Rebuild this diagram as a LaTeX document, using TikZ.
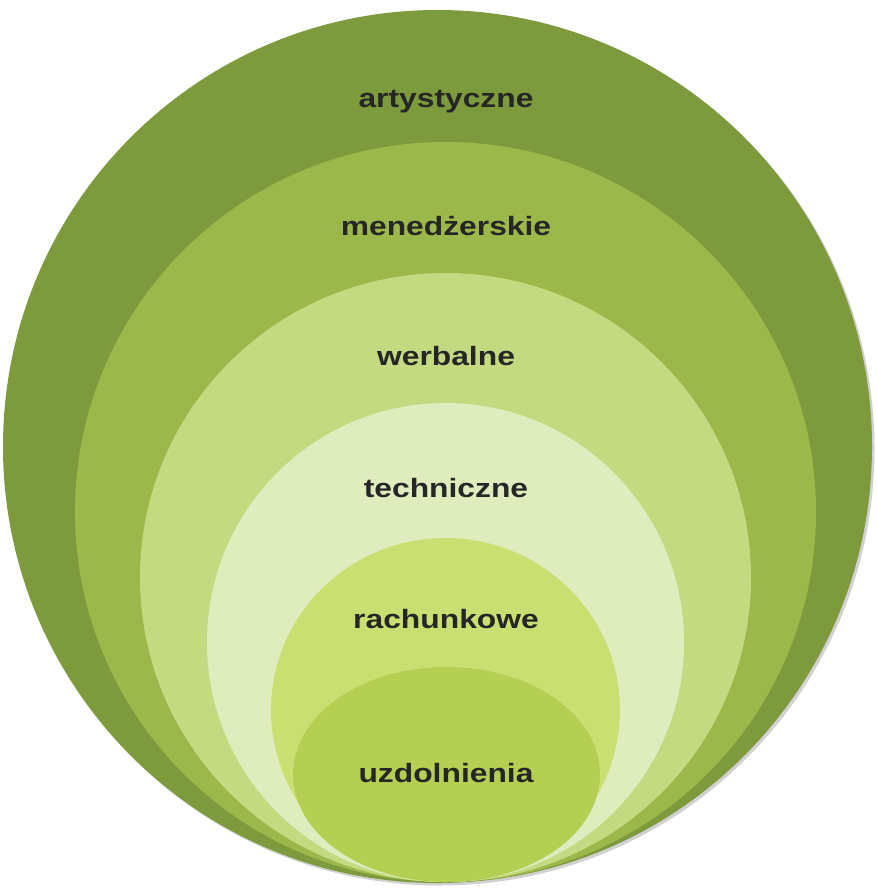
\documentclass[tikz,border=0pt]{standalone}
\usepackage{fontspec}
\newfontfamily\lblfont[FakeStretch=1.2]{Liberation Sans}
\begin{document}
\begin{tikzpicture}[x=1pt,y=-1pt,
  lbl/.style={anchor=base,inner sep=0pt,font=\lblfont\bfseries\fontsize{26.5}{30}\selectfont,text=black!85}]
\useasboundingbox[fill=white] (0,0) rectangle (876,888);
\definecolor{cA}{HTML}{7D9B3C}
\definecolor{cB}{HTML}{9CB84A}
\definecolor{cC}{HTML}{C3DA80}
\definecolor{cD}{HTML}{DFEDBE}
\definecolor{cE}{HTML}{C9DF72}
\definecolor{cF}{HTML}{B5CF52}
% shadow
\fill[black!18] (440,449) ellipse [x radius=434.5, y radius=436.5];
\fill[cA] (437.5,446.5) ellipse [x radius=434.5, y radius=436.5];
\fill[cB] (445.5,512) ellipse [x radius=370.5, y radius=370];
\fill[cC] (445.5,577.5) ellipse [x radius=305.5, y radius=304.5];
\fill[cD] (445.5,642.5) ellipse [x radius=238.5, y radius=239.5];
\fill[cE] (445.5,710) ellipse [x radius=174.5, y radius=172];
\fill[cF] (446.5,774.5) ellipse [x radius=153.5, y radius=107.5];
\node[lbl] (t1) at (446,107) {artystyczne};
\node[lbl] (t2) at (446,235) {menedżerskie};
\node[lbl] (t3) at (446,365) {werbalne};
\node[lbl] (t4) at (446,497) {techniczne};
\node[lbl] (t5) at (446,628) {rachunkowe};
\node[lbl] (t6) at (446,782) {uzdolnienia};
\end{tikzpicture}
\end{document}
